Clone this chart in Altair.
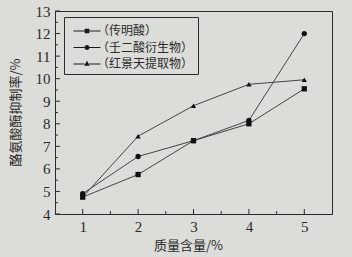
import altair as alt
import pandas as pd

# ---- data ----
x_vals = [1, 2, 3, 4, 5]
series_names = ["（传明酸）", "（壬二酸衍生物）", "（红景天提取物）"]
s_tranexamic = [4.75, 5.75, 7.25, 8.0, 9.55]
s_azelaic = [4.9, 6.55, 7.25, 8.15, 12.0]
s_rhodiola = [4.75, 7.45, 8.8, 9.75, 9.95]
y_major = [4, 5, 6, 7, 8, 9, 10, 11, 12, 13]
y_minor = [4.5, 5.5, 6.5, 7.5, 8.5, 9.5, 10.5, 11.5, 12.5]
x_major = [1, 2, 3, 4, 5]
x_minor = [1.5, 2.5, 3.5, 4.5]

rows = []
for name, vals in zip(series_names, [s_tranexamic, s_azelaic, s_rhodiola]):
    for x, y in zip(x_vals, vals):
        rows.append({"x": x, "y": y, "series": name, "lg": name})
df = pd.DataFrame(rows)

W, H = 277, 203
ink = "#2b2b2b"
bg = "#dcdcd9"
num_font = "Liberation Serif"
cjk_font = "Noto Sans CJK SC"

xscale = alt.Scale(domain=[0.5, 5.5], nice=False, zero=False)
yscale = alt.Scale(domain=[4, 13], nice=False, zero=False)

x_axis = alt.Axis(values=x_major, tickSize=0, labelPadding=5, labelFont=num_font,
                  labelFontSize=15, labelColor=ink, domainColor=ink, grid=False,
                  labelOverlap=False, labelFlush=False,
                  title="质量含量/%", titleFont=cjk_font, titleFontSize=13,
                  titleFontWeight="normal", titleColor=ink, titleX=133, titleY=31,
                  titleBaseline="middle", titleAlign="center")
y_axis = alt.Axis(values=y_major, tickSize=0, labelPadding=5, labelFont=num_font,
                  labelFontSize=15, labelColor=ink, domainColor=ink, grid=False,
                  labelOverlap=False, labelFlush=False,
                  title="酪氨酸酶抑制率/%", titleFont=cjk_font, titleFontSize=13,
                  titleFontWeight="normal", titleColor=ink, titleX=-40, titleY=101,
                  titleBaseline="middle", titleAlign="center", titleAngle=-90)

lines = alt.Chart(df).mark_line(color="#444", strokeWidth=1).encode(
    x=alt.X("x:Q", scale=xscale, axis=x_axis),
    y=alt.Y("y:Q", scale=yscale, axis=y_axis),
    detail="series:N",
)

# legend glyphs: line segment with the marker, shifted right by one unit
seg = "M-0.5,-0.06H0.72V0.06H-0.5ZM1.28,-0.06H2.5V0.06H1.28Z"
legend_paths = [
    seg + "M0.74,-0.26H1.26V0.26H0.74Z",
    seg + "M1.28,0A0.28,0.28,0,1,1,0.72,0A0.28,0.28,0,1,1,1.28,0Z",
    seg + "M1,-0.36L1.32,0.2H0.68Z",
]
legend_layer = alt.Chart(df).mark_point(
    filled=True, color="#1a1a1a", opacity=0, size=1
).encode(
    x=alt.X("x:Q", scale=xscale, axis=x_axis),
    y=alt.Y("y:Q", scale=yscale, axis=y_axis),
    shape=alt.Shape("lg:N", sort=series_names,
                    scale=alt.Scale(domain=series_names, range=legend_paths),
                    legend=alt.Legend(
                        title=None, orient="none", legendX=9, legendY=6,
                        symbolSize=324, symbolOpacity=1,
                        labelFont=cjk_font, labelFontSize=12, labelColor=ink,
                        labelOffset=9, rowPadding=0.5, padding=4,
                        strokeColor=ink, fillColor=bg,
                    )),
)

shape_range = ["square", "circle", "triangle-up"]
points = alt.Chart(df).mark_point(filled=True, color="#111", opacity=1, size=28).encode(
    x=alt.X("x:Q", scale=xscale, axis=x_axis),
    y=alt.Y("y:Q", scale=yscale, axis=y_axis),
    shape=alt.Shape("series:N", sort=series_names,
                    scale=alt.Scale(domain=series_names, range=shape_range), legend=None),
)

y_ticks_major = alt.Chart(pd.DataFrame({"v": y_major})).mark_rule(color=ink).encode(
    y=alt.Y("v:Q", scale=yscale, axis=y_axis), x=alt.value(0), x2=alt.value(5))
y_ticks_minor = alt.Chart(pd.DataFrame({"v": y_minor})).mark_rule(color=ink).encode(
    y=alt.Y("v:Q", scale=yscale, axis=y_axis), x=alt.value(0), x2=alt.value(3))
x_ticks_major = alt.Chart(pd.DataFrame({"v": x_major})).mark_rule(color=ink).encode(
    x=alt.X("v:Q", scale=xscale, axis=x_axis), y=alt.value(H), y2=alt.value(H - 5))
x_ticks_minor = alt.Chart(pd.DataFrame({"v": x_minor})).mark_rule(color=ink).encode(
    x=alt.X("v:Q", scale=xscale, axis=x_axis), y=alt.value(H), y2=alt.value(H - 3))

chart = alt.layer(
    lines, legend_layer, points,
    y_ticks_major, y_ticks_minor, x_ticks_major, x_ticks_minor,
).resolve_scale(shape="independent").properties(
    width=W, height=H,
    autosize=alt.AutoSizeParams(type="none"),
    padding={"left": 55, "top": 11, "right": 20, "bottom": 43},
    background=bg,
).configure_view(stroke=ink, strokeWidth=1)

chart.save("out.html", embed_options={"renderer": "svg", "actions": False})
